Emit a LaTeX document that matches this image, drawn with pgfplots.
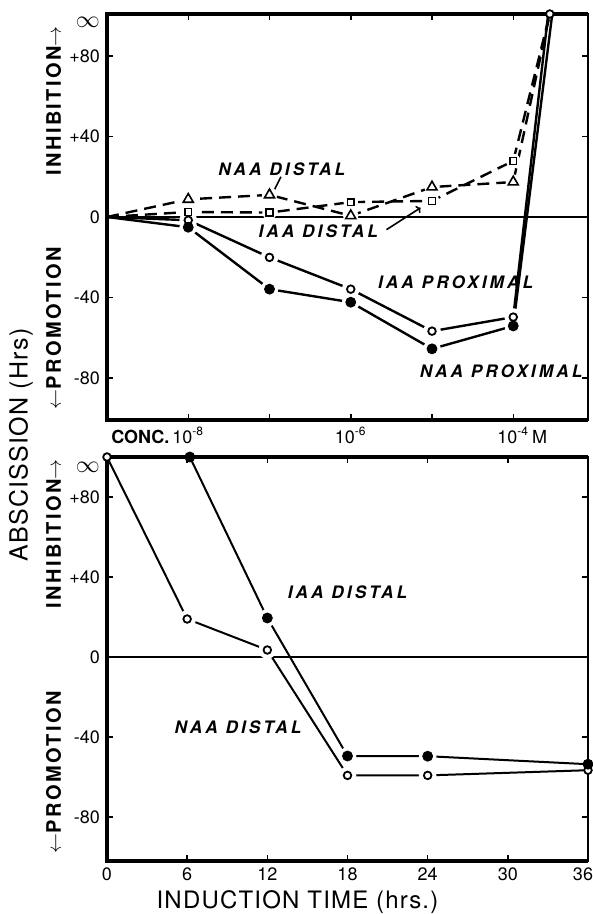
\documentclass[border=0pt]{standalone}
\usepackage{fontspec}
\setmainfont{TeX Gyre Heros}
\newfontfamily\lblfont[LetterSpace=18]{TeX Gyre Heros}
\newfontfamily\ttlfont[LetterSpace=12]{TeX Gyre Heros}
\newfontfamily\bigfont[LetterSpace=5]{TeX Gyre Heros}
\usepackage{pgfplots}
\usepackage{pgfplotstable}
\pgfplotsset{compat=1.18}
\usetikzlibrary{arrows.meta}

% top panel: x = position on log concentration axis (0 = control, 1 = 1e-8 ... 5 = 1e-4)
\pgfplotstableread{
x y
0 0
1 8.8
2 11
3 0.6
4 14.9
5 17.4
5.45 101
}\naaD
\pgfplotstableread{
x y
0 0
1 2.5
2 2.2
3 7.4
4 8
5 27.9
5.45 101
}\iaaD
\pgfplotstableread{
x y
0 0
1 -1.6
2 -20.1
3 -35.9
4 -56.8
5 -49.8
5.43 101
}\iaaP
\pgfplotstableread{
x y
0 0
1 -5.1
2 -35.9
3 -42.4
4 -65.6
5 -54.2
5.48 101
}\naaP
% bottom panel: induction time (hrs)
\pgfplotstableread{
x y
0 100
6 19
12 3.5
18 -59.2
24 -59.2
36 -56.6
}\naaB
\pgfplotstableread{
x y
6.2 100
12 19.5
18 -49.5
24 -49.6
36 -53.6
}\iaaB

\pgfplotsset{
  panel/.style={
    scale only axis, width=240.5pt, clip=false,
    axis line style={line width=0.75pt},
    tick align=inside, xtick pos=both, ytick pos=both,
    major tick length=3pt, tick style={line width=0.75pt, black},
    tick label style={font=\fontsize{9}{10}\selectfont},
    /pgf/number format/assume math mode=true,
    ytick={-80,-40,0,40,80},
    yticklabels={-80,-40,0,+40,+80},
    extra y tick labels={{\large\(\infty\)}},
    extra y tick style={major tick length=0pt},
  },
  solidl/.style={line width=1.2pt, black},
  dashl/.style={line width=1.2pt, black, dash pattern=on 6pt off 3.5pt},
  halo/.style={only marks, mark=*, mark size=4.2pt, white, forget plot},
  ocirc/.style={only marks, mark=*, mark size=1.9pt, mark options={fill=white, draw=black, line width=0.9pt}},
  fcirc/.style={only marks, mark=*, mark size=2.5pt, black},
  otri/.style={only marks, mark=triangle, mark size=2.9pt, mark options={fill=white, draw=black, line width=0.8pt}},
  osq/.style={only marks, mark=square, mark size=1.7pt, mark options={fill=white, draw=black, line width=0.8pt}},
}
\tikzset{
  lbl/.style={font=\fontsize{8.6}{9}\selectfont\lblfont\bfseries\itshape},
  ttl/.style={font=\fontsize{10}{11}\selectfont\ttlfont\bfseries, rotate=90},
}

\begin{document}
\begin{tikzpicture}
\path[use as bounding box] (-53.5pt,7pt) rectangle (243pt,-450pt);

\begin{axis}[panel, at={(0,0)}, anchor=north west, height=203pt,
  xmin=0, xmax=5.92, ymin=-101, ymax=101,
  xtick={1,2,3,4,5},
  xticklabels={\llap{\bfseries CONC.\,}10\textsuperscript{-8},,10\textsuperscript{-6},,10\textsuperscript{-4}\rlap{\,M}},
  extra y ticks={97},
]
\draw[line width=2pt] (rel axis cs:1,1) -- (rel axis cs:0,1) -- (rel axis cs:0,0) -- (rel axis cs:1,0);
\addplot[dashl] table {\naaD};
\addplot[dashl] table {\iaaD};
\addplot[solidl] table {\iaaP};
\addplot[solidl] table {\naaP};
\addplot[halo, mark size=3.6pt, mark indices={2,3,4,5,6}] table {\naaD};
\addplot[halo, mark size=3.4pt, mark indices={2,3,4,5,6}] table {\iaaD};
\addplot[halo, mark indices={2,3,4,5,6}] table {\iaaP};
\addplot[halo, mark indices={2,3,4,5,6}] table {\naaP};
\draw[line width=0.6pt] (axis cs:0,0) -- (axis cs:5.92,0);
\addplot[otri, mark indices={2,3,4,5,6}] table {\naaD};
\addplot[osq, mark indices={2,3,4,5,6}] table {\iaaD};
\addplot[ocirc, mark indices={2,3,4,5,6}] table {\iaaP};
\addplot[fcirc, mark indices={2,3,4,5,6}] table {\naaP};
\addplot[ocirc] coordinates {(5.45,101)};
\node[lbl] at (axis cs:2.15,24) {NAA DISTAL};
\draw[line width=0.8pt] (axis cs:2.14,20) -- (axis cs:2.06,13.5);
\node[lbl] at (axis cs:2.6,-7) {IAA DISTAL};
\draw[line width=0.8pt, -{To[length=2pt]}] (axis cs:3.44,-6.3) -- (axis cs:3.86,4.6);
\node[lbl] at (axis cs:4.29,-32.7) {IAA PROXIMAL};
\node[lbl] at (axis cs:4.85,-76.7) {NAA PROXIMAL};
\node[ttl] at ([xshift=-26.75pt]rel axis cs:0,0.786) {INHIBITION\(\rightarrow\)};
\node[ttl] at ([xshift=-26.75pt]rel axis cs:0,0.226) {\(\leftarrow\)PROMOTION};
\end{axis}

\begin{axis}[panel, at={(0,-221.5pt)}, anchor=north west, height=202pt,
  xmin=0, xmax=36, ymin=-102, ymax=100,
  xtick={0,6,12,18,24,30,36},
  xticklabels={0,6,12,18,24,30,{\kern-5pt 36}},
  extra y ticks={95},
  xlabel={INDUCTION TIME (hrs.)},
  xlabel style={font=\fontsize{12}{14}\selectfont\bigfont, xshift=-25pt, yshift=2pt},
]
\draw[line width=2pt] (rel axis cs:1,1) -- (rel axis cs:0,1) -- (rel axis cs:0,0) -- (rel axis cs:1,0);
\addplot[solidl, line width=1pt] table {\naaB};
\addplot[solidl, line width=1pt] table {\iaaB};
\addplot[halo, mark indices={2,3,4,5}] table {\naaB};
\addplot[halo, mark indices={2,3,4}] table {\iaaB};
\draw[line width=0.6pt] (axis cs:0,0) -- (axis cs:36,0);
\addplot[ocirc] table {\naaB};
\addplot[fcirc] table {\iaaB};
\node[lbl] at (axis cs:18.0,32.5) {IAA DISTAL};
\node[lbl] at (axis cs:9.8,-34.9) {NAA DISTAL};
\node[ttl] at ([xshift=-26.75pt]rel axis cs:0,0.81) {INHIBITION\(\rightarrow\)};
\node[ttl] at ([xshift=-26.75pt]rel axis cs:0,0.22) {\(\leftarrow\)PROMOTION};
\end{axis}

\node[rotate=90, font=\fontsize{12.5}{15}\selectfont\bigfont] at (-43pt,-215.5pt) {ABSCISSION (Hrs)};
\end{tikzpicture}
\end{document}
